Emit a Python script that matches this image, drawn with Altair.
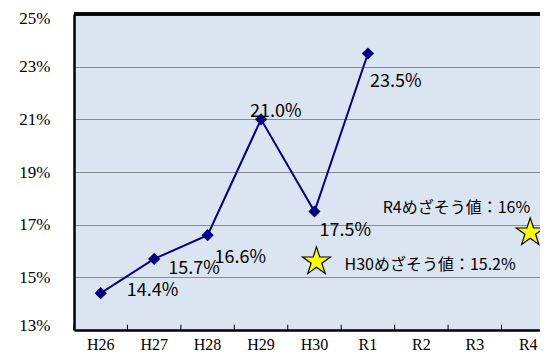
import altair as alt
import pandas as pd

# ---- data ----
years = ["H26", "H27", "H28", "H29", "H30", "R1", "R2", "R3", "R4"]
actual_years = ["H26", "H27", "H28", "H29", "H30", "R1"]
actual_values = [14.4, 15.7, 16.6, 21.0, 17.5, 23.5]
target_years = ["H30", "R4"]
target_values = [15.6, 16.7]
target_labels = ["H30めざそう値：15.2%", "R4めざそう値：16%"]
y_ticks = [13, 15, 17, 19, 21, 23, 25]

df = pd.DataFrame({
    "year": actual_years,
    "value": actual_values,
    "label": [f"{v:.1f}%" for v in actual_values],
})
tg = pd.DataFrame({"year": target_years, "value": target_values, "label": target_labels})
cats = pd.DataFrame({"year": years})

# ---- styling ----
NAVY = "#000080"
STAR = ("M0,-1L0.2245,-0.309L0.951,-0.309L0.363,0.118L0.588,0.809L0,0.382"
        "L-0.588,0.809L-0.363,0.118L-0.951,-0.309L-0.2245,-0.309Z")
SERIF = "Times New Roman, Liberation Serif, serif"
LABEL_FONT = "Liberation Sans Narrow, Arial Narrow, Noto Sans CJK JP"
JP_FONT = "Noto Sans CJK JP"
band = 53.44

xscale = alt.Scale(type="band", domain=years, range=[0, band * 9],
                   paddingInner=0, paddingOuter=0)
yscale = alt.Scale(domain=[13, 25], nice=False, zero=False)

x_axis = alt.Axis(title=None, labelAngle=0, ticks=False, grid=False,
                  labelFont=SERIF, labelFontSize=16, labelColor="black",
                  labelPadding=6, domainColor="black", domainWidth=2.5)
y_axis = alt.Axis(title=None, values=y_ticks, labelExpr="datum.value + '%'",
                  ticks=False, labelPadding=24, labelFont=SERIF,
                  labelFontSize=17, labelColor="black", domainColor="black",
                  labelFlush=True, labelFlushOffset=4,
                  domainWidth=2.5, grid=True, gridColor="#333333", gridDash=[1, 1],
                  gridWidth=1)

X = alt.X("year:N", scale=xscale, sort=years, axis=x_axis)
Y = alt.Y("value:Q", scale=yscale, axis=y_axis)

inner_ticks = alt.Chart(cats).mark_rule(color="black", strokeWidth=1).encode(
    x=alt.X("year:N", scale=xscale, sort=years, axis=x_axis, bandPosition=0),
    y=alt.datum(13), y2=alt.datum(13.2))

top_rule = alt.Chart(cats).mark_rule(color="black", strokeWidth=2.5).encode(
    y=alt.datum(25))

line = alt.Chart(df).mark_line(color=NAVY, strokeWidth=2).encode(x=X, y=Y)
pts = alt.Chart(df).mark_point(shape="diamond", filled=True, size=150,
                               color=NAVY, opacity=1).encode(x=X, y=Y)

stars = alt.Chart(tg).mark_point(shape=STAR, filled=True, fill="#FFFF00",
                                 stroke="black", strokeWidth=1.2, size=865,
                                 opacity=1, xOffset=2).encode(x=X, y=Y)

# label offsets (dx, dy) for each actual point
offsets = {"H26": (26, -2), "H27": (14, 10), "H28": (7, 23),
           "H29": (-11, -7), "H30": (5, 19), "R1": (2, 28)}
label_layers = []
for yr, (dx, dy) in offsets.items():
    label_layers.append(
        alt.Chart(df).transform_filter(alt.datum.year == yr).mark_text(
            align="left", baseline="middle", dx=dx, dy=dy, font=LABEL_FONT,
            fontSize=18, color="black").encode(x=X, y=Y, text="label:N"))

tgt_offsets = {"H30": ("left", 30, 3), "R4": ("right", 2, -25)}
for yr, (al, dx, dy) in tgt_offsets.items():
    label_layers.append(
        alt.Chart(tg).transform_filter(alt.datum.year == yr).mark_text(
            align=al, baseline="middle", dx=dx, dy=dy, font=JP_FONT,
            fontSize=16, color="black").encode(x=X, y=Y, text="label:N"))

chart = alt.layer(inner_ticks, top_rule, line, pts, stars, *label_layers).properties(
    width=466, height=316,
    autosize=alt.AutoSizeParams(type="none"),
    padding={"left": 66, "top": 6, "right": 0, "bottom": 21},
    background="white",
).configure_view(fill="#DBE5F1", stroke=None)

chart.save("out.html", embed_options={"renderer": "svg", "actions": False})
